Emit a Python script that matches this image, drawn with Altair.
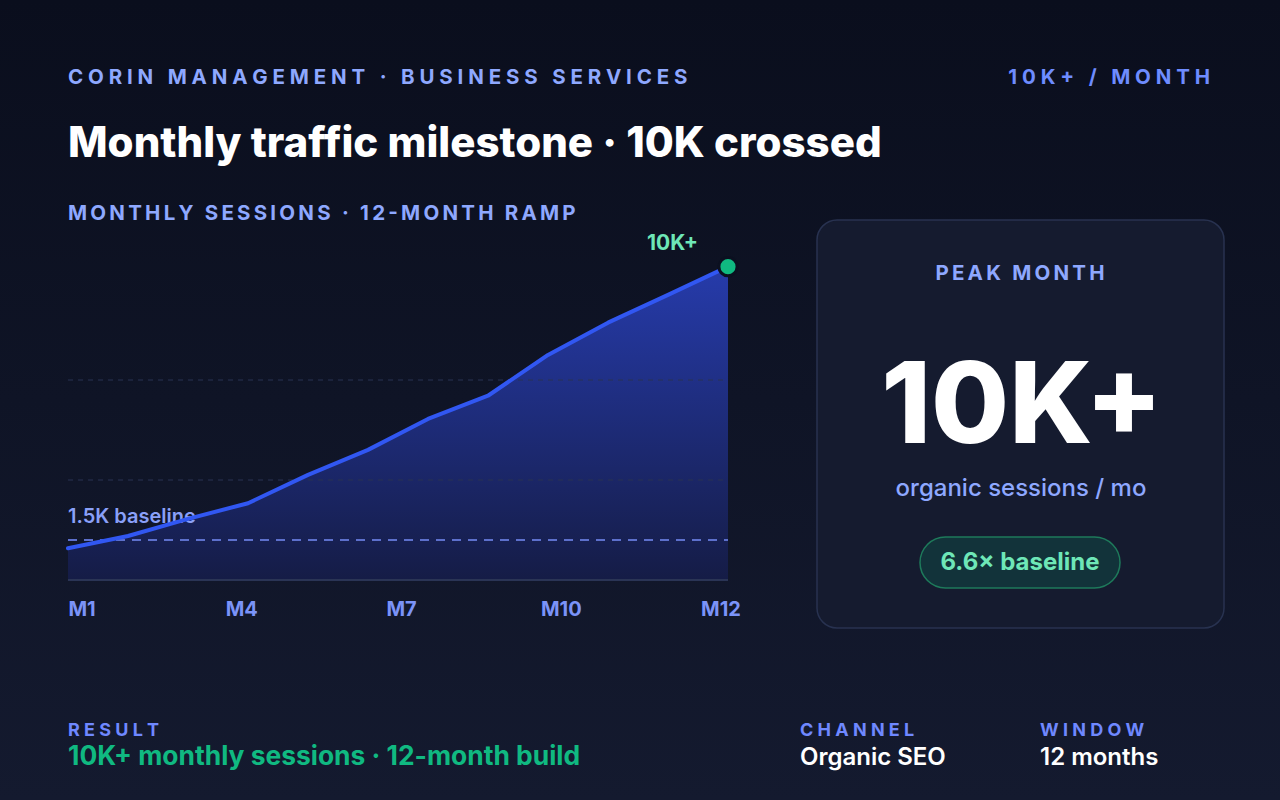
import altair as alt
import pandas as pd

# ---------------- data ----------------
months = list(range(1, 13))
sessions = [1190, 1650, 2290, 2880, 3940, 4880, 6040, 6910, 8440, 9650, 10690, 11750]
baseline_value = [1500]
grid_values = [3750, 7500]
tick_labels = ["M1", "M4", "M7", "M10", "M12"]

BG_TOP = "#0a0e1d"
BG_BOT = "#141a2f"
LAV = "#8ea8ff"
LAV2 = "#6f88ff"
GREEN = "#10b981"
GREEN_L = "#6ee7b7"
LINE = "#3157f2"
FONT = "Inter"

THIN = "\u2009"
HAIR = "\u200a"


def spaced(s, sep=THIN):
    return sep.join(s)


W, H = 1280, 800
xs = alt.Scale(domain=[1, 12], range=[68, 728], nice=False, zero=False)
ys = alt.Scale(domain=[0, 15000], range=[580, 180], nice=False)

df = pd.DataFrame({"month": months, "sessions": sessions})
peak = pd.DataFrame({"month": [months[-1]], "sessions": [sessions[-1]], "t": ["10K+"]})
base_df = pd.DataFrame({"v": baseline_value, "m1": [months[0]], "m2": [months[-1]],
                        "t": ["1.5K baseline"]})
grid_df = pd.DataFrame({"v": grid_values, "m1": [months[0]] * len(grid_values),
                        "m2": [months[-1]] * len(grid_values)})
axis_df = pd.DataFrame({"v": [0], "m1": [months[0]], "m2": [months[-1]]})
lab_df = pd.DataFrame({"label": tick_labels})

one = pd.DataFrame({"a": [0]})


def txt(s, x, y, size, color, weight="bold", align="left"):
    return alt.Chart(pd.DataFrame({"t": [s]})).mark_text(
        align=align, baseline="alphabetic", fontSize=size, fontWeight=weight,
        font=FONT, color=color
    ).encode(x=alt.value(x), y=alt.value(y), text="t:N")


def box(x1, x2, y1, y2, fill, stroke, radius, sw=1.5):
    return alt.Chart(one).mark_rect(
        fill=fill, stroke=stroke, strokeWidth=sw, cornerRadius=radius
    ).encode(x=alt.value(x1), x2=alt.value(x2), y=alt.value(y1), y2=alt.value(y2))


background = alt.Chart(one).mark_rect(
    fill=alt.LinearGradient(
        gradient="linear",
        stops=[alt.GradientStop(color=BG_TOP, offset=0),
               alt.GradientStop(color=BG_BOT, offset=1)],
        x1=0, x2=0, y1=0, y2=1,
    )
).encode(x=alt.value(0), x2=alt.value(W), y=alt.value(0), y2=alt.value(H))

card = box(817, 1224, 220, 628, "#151b2f", "#283250", 20)
badge = box(920, 1120, 537, 588, "#12333a", "#1e7a5b", 26)

area = alt.Chart(df).mark_area(
    fill=alt.LinearGradient(
        gradient="linear",
        stops=[alt.GradientStop(color="#263bab", offset=0),
               alt.GradientStop(color="#151c46", offset=1)],
        x1=0, x2=0, y1=0, y2=1,
    )
).encode(x=alt.X("month:Q", scale=xs, axis=None),
         y=alt.Y("sessions:Q", scale=ys, axis=None))

grid = alt.Chart(grid_df).mark_rule(color="#283252", strokeWidth=1, strokeDash=[5, 5]).encode(
    x=alt.X("m1:Q", scale=xs, axis=None), x2="m2:Q",
    y=alt.Y("v:Q", scale=ys, axis=None))

axis_line = alt.Chart(axis_df).mark_rule(color="#2a3455", strokeWidth=2).encode(
    x=alt.X("m1:Q", scale=xs, axis=None), x2="m2:Q",
    y=alt.Y("v:Q", scale=ys, axis=None))

base_rule = alt.Chart(base_df).mark_rule(color="#5d70cc", strokeWidth=2, strokeDash=[9, 7]).encode(
    x=alt.X("m1:Q", scale=xs, axis=None), x2="m2:Q",
    y=alt.Y("v:Q", scale=ys, axis=None))

base_text = alt.Chart(base_df).mark_text(
    align="left", baseline="alphabetic", dy=-17, fontSize=20, fontWeight=600,
    font=FONT, color="#8aa0f8"
).encode(x=alt.X("m1:Q", scale=xs, axis=None),
         y=alt.Y("v:Q", scale=ys, axis=None), text="t:N")

line = alt.Chart(df).mark_line(color=LINE, strokeWidth=4, strokeCap="round",
                               strokeJoin="round").encode(
    x=alt.X("month:Q", scale=xs, axis=None),
    y=alt.Y("sessions:Q", scale=ys, axis=None))

dot = alt.Chart(peak).mark_point(filled=True, fill=GREEN, stroke="#0b1020",
                                 strokeWidth=3, size=330, opacity=1,
                                 shape="circle").encode(
    x=alt.X("month:Q", scale=xs, axis=None),
    y=alt.Y("sessions:Q", scale=ys, axis=None))

peak_text = alt.Chart(peak).mark_text(
    align="right", baseline="alphabetic", dx=-30, dy=-17, fontSize=21,
    fontWeight="bold", font=FONT, color=GREEN_L
).encode(x=alt.X("month:Q", scale=xs, axis=None),
         y=alt.Y("sessions:Q", scale=ys, axis=None), text="t:N")

xlabels = alt.Chart(lab_df).mark_text(
    align="center", baseline="alphabetic", fontSize=20, fontWeight="bold",
    font=FONT, color="#7b93f8"
).encode(x=alt.X("label:N", scale=alt.Scale(type="point", domain=tick_labels,
                                            range=[82, 721], padding=0), axis=None),
         y=alt.value(616), text="label:N")

texts = [
    txt(spaced("CORIN MANAGEMENT · BUSINESS SERVICES", THIN + HAIR), 68, 84, 20.5, LAV),
    txt(spaced("10K+ / MONTH", THIN + HAIR), 1210, 84, 20.5, "#6e8cff", align="right"),
    txt("Monthly traffic milestone · 10K crossed", 68, 157, 42, "#ffffff", weight=800),
    txt(spaced("MONTHLY SESSIONS · 12-MONTH RAMP", THIN), 68, 220, 20.5, LAV),
    txt(spaced("PEAK MONTH", THIN), 1020, 280, 20.5, LAV, align="center"),
    txt("10K+", 1022, 443, 113, "#ffffff", weight=800, align="center"),
    txt("organic sessions / mo", 1021, 496, 24, "#8ea8ff", weight=500, align="center"),
    txt("6.6× baseline", 1020, 570, 24, GREEN_L, weight="bold", align="center"),
    txt(spaced("RESULT", THIN + HAIR), 68, 736, 18, LAV2),
    txt("10K+ monthly sessions · 12-month build", 68, 765, 26.4, GREEN, weight="bold"),
    txt(spaced("CHANNEL", THIN + HAIR), 800, 736, 18, LAV2),
    txt("Organic SEO", 800, 765, 24, "#ffffff", weight=600),
    txt(spaced("WINDOW", THIN + HAIR), 1040, 736, 18, LAV2),
    txt("12 months", 1040, 765, 24, "#ffffff", weight=600),
]

chart = alt.layer(
    background, card, badge, area, grid, axis_line, base_text, base_rule, line, dot,
    peak_text, xlabels, *texts
).resolve_scale(x="independent", y="independent").properties(
    width=W, height=H, padding=0, autosize="none", background=BG_TOP
).configure_view(strokeWidth=0)

chart.save("out.html", embed_options={"renderer": "svg", "actions": False})
